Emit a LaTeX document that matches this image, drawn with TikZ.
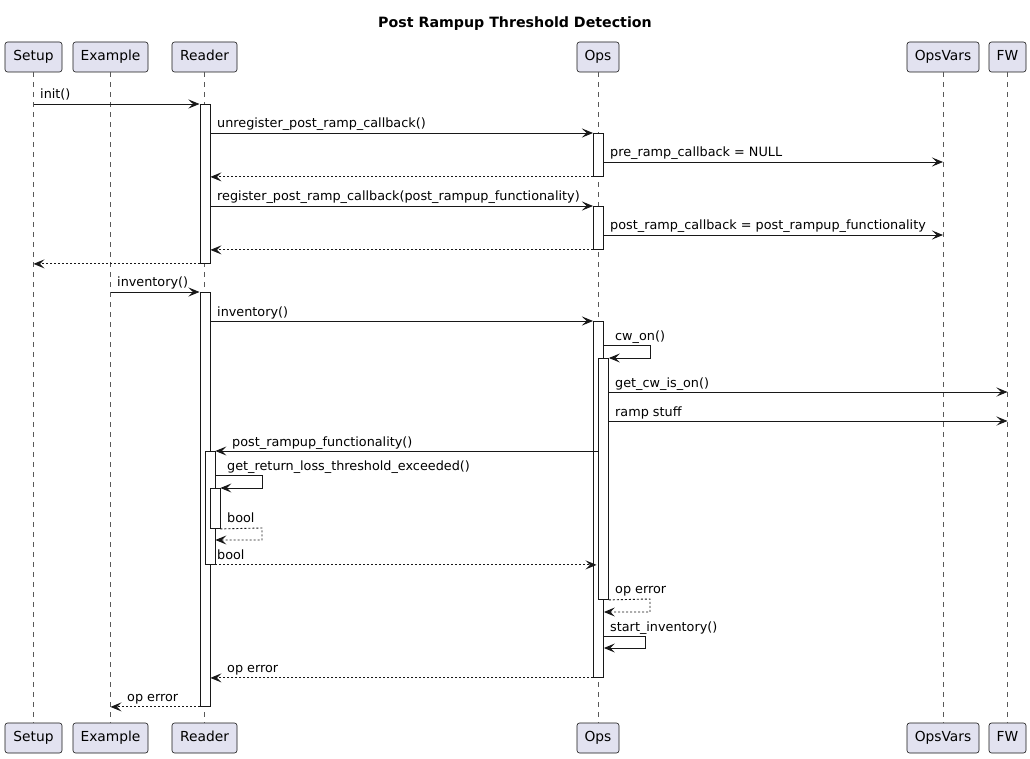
\documentclass[tikz,border=0pt]{standalone}
\usepackage{fontspec}
\setmainfont{DejaVu Sans}
\usetikzlibrary{arrows.meta}
\definecolor{partfill}{HTML}{E2E2F0}
\definecolor{ink}{HTML}{181818}
\begin{document}
\begin{tikzpicture}[x=1pt,y=-1pt,
  part/.style={draw=ink, fill=partfill, rounded corners=2.5pt, minimum height=30pt,
    inner sep=0pt, text height=10pt, text depth=3pt, line width=0.6pt,
    font=\fontsize{13.8}{16}\selectfont},
  life/.style={draw=black!65, dash pattern=on 5pt off 5pt, line width=0.6pt},
  act/.style={draw=ink, fill=white, line width=0.9pt, anchor=north west,
    minimum width=10pt, inner sep=0pt},
  msg/.style={draw=ink, line width=0.9pt, -{Stealth[length=11pt,width=9pt,inset=4.5pt]}},
  ret/.style={msg, dash pattern=on 2pt off 2pt},
  lbl/.style={anchor=base west, inner sep=0pt, font=\fontsize{12.8}{15}\selectfont, text=black},
  ttl/.style={anchor=base, inner sep=0pt, font=\bfseries\fontsize{14.2}{17}\selectfont}]
\useasboundingbox[fill=white] (0,0) rectangle (1030,759);

\node[ttl] (title) at (515,27.5) {Post Rampup Threshold Detection};

% participants (top)
\node[part, minimum width=57pt] (setupT) at (33.5,57) {Setup};
\node[part, minimum width=75pt] (exampleT) at (110.5,57) {Example};
\node[part, minimum width=65pt] (readerT) at (204.5,57) {Reader};
\node[part, minimum width=42pt] (opsT) at (598,57) {Ops};
\node[part, minimum width=72pt] (opsvarsT) at (943,57) {OpsVars};
\node[part, minimum width=37pt] (fwT) at (1007.5,57) {FW};
% participants (bottom)
\node[part, minimum width=57pt] (setupB) at (33.5,738) {Setup};
\node[part, minimum width=75pt] (exampleB) at (110.5,738) {Example};
\node[part, minimum width=65pt] (readerB) at (204.5,738) {Reader};
\node[part, minimum width=42pt] (opsB) at (598,738) {Ops};
\node[part, minimum width=72pt] (opsvarsB) at (943,738) {OpsVars};
\node[part, minimum width=37pt] (fwB) at (1007.5,738) {FW};

% lifelines
\draw[life] (setupT.south) -- (setupB.north);
\draw[life] (exampleT.south) -- (exampleB.north);
\draw[life] (readerT.south) -- (readerB.north);
\draw[life] (opsT.south) -- (opsB.north);
\draw[life] (opsvarsT.south) -- (opsvarsB.north);
\draw[life] (fwT.south) -- (fwB.north);

% activation bars
\node[act, minimum height=159pt] (rA1) at (199.5,104) {};
\node[act, minimum height=43pt] (oA1) at (593,133) {};
\node[act, minimum height=43pt] (oA2) at (593,206) {};
\node[act, minimum height=414pt] (rA2) at (199.5,292) {};
\node[act, minimum height=356pt] (oA3) at (593,321) {};
\node[act, minimum height=241pt] (oA4) at (598,358) {};
\node[act, minimum height=113pt] (rA3) at (204.5,451) {};
\node[act, minimum height=40pt] (rA4) at (209.5,488) {};

% messages
\draw[msg] (setupT.south |- rA1.north west) -- (rA1.north west);
\node[lbl] (l1) at (40,99) {init()};

\draw[msg] (rA1.east |- oA1.north) -- (oA1.north west);
\node[lbl] (l2) at (217,128) {unregister\_post\_ramp\_callback()};

\draw[msg] (oA1.east |- 0,162) -- (opsvarsT.south |- 0,162);
\node[lbl] (l3) at (610,157) {pre\_ramp\_callback = NULL};

\draw[ret] (oA1.south west) -- (rA1.east |- oA1.south);

\draw[msg] (rA1.east |- oA2.north) -- (oA2.north west);
\node[lbl] (l5) at (217,201) {register\_post\_ramp\_callback(post\_rampup\_functionality)};

\draw[msg] (oA2.east |- 0,235) -- (opsvarsT.south |- 0,235);
\node[lbl] (l6) at (610,230) {post\_ramp\_callback = post\_rampup\_functionality};

\draw[ret] (oA2.south west) -- (rA1.east |- oA2.south);

\draw[ret] (rA1.south west) -- (setupT.south |- rA1.south);

\draw[msg] (exampleT.south |- rA2.north) -- (rA2.north west);
\node[lbl] (l9) at (117,287) {inventory()};

\draw[msg] (rA2.east |- oA3.north) -- (oA3.north west);
\node[lbl] (l10) at (217,316) {inventory()};

\draw[msg] (oA3.east |- 0,345) -- (650,345) -- (650,358) -- (oA4.north east);
\node[lbl] (l11) at (615,340) {cw\_on()};

\draw[msg] (oA4.east |- 0,392) -- (fwT.south |- 0,392);
\node[lbl] (l12) at (615,387) {get\_cw\_is\_on()};

\draw[msg] (oA4.east |- 0,421) -- (fwT.south |- 0,421);
\node[lbl] (l13) at (615,416) {ramp stuff};

\draw[msg] (oA4.west |- rA3.north) -- (rA3.north east);
\node[lbl] (l14) at (232,446) {post\_rampup\_functionality()};

\draw[msg] (rA3.east |- 0,475) -- (262,475) -- (262,488) -- (rA4.north east);
\node[lbl] (l15) at (227,470) {get\_return\_loss\_threshold\_exceeded()};

\draw[ret] (rA4.south east) -- (262,528) -- (262,540) -- (rA3.east |- 0,540);
\node[lbl] (l16) at (227,522) {bool};

\draw[ret] (rA3.south east) -- ([xshift=3.5pt]oA3.west |- rA3.south);
\node[lbl] (l17) at (217,559) {bool};

\draw[ret] (oA4.south east) -- (650,599) -- (650,612) -- (oA3.east |- 0,612);
\node[lbl] (l18) at (615,593) {op error};

\draw[msg] (oA3.east |- 0,636) -- (645,636) -- (645,648) -- (oA3.east |- 0,648);
\node[lbl] (l19) at (610,631) {start\_inventory()};

\draw[ret] (oA3.south west) -- (rA2.east |- oA3.south);
\node[lbl] (l20) at (227,672) {op error};

\draw[ret] (rA2.south west) -- (exampleT.south |- rA2.south);
\node[lbl] (l21) at (127,701) {op error};
\end{tikzpicture}
\end{document}
